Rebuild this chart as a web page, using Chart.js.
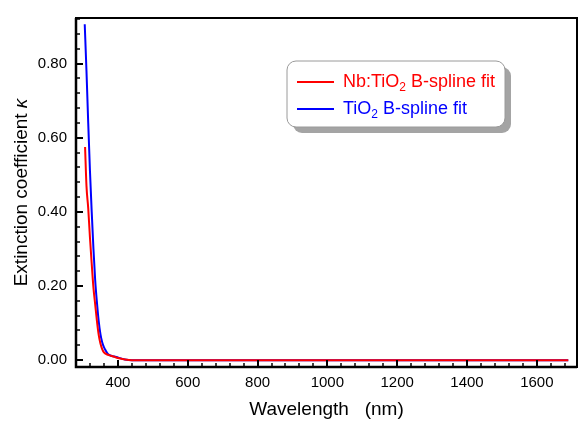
<!DOCTYPE html>
<html>
<head>
<meta charset="utf-8">
<script src="https://cdn.jsdelivr.net/npm/chart.js@4.4.0/dist/chart.umd.min.js"></script>
<style>
  html, body { margin: 0; padding: 0; background: #fff; }
  #wrap { width: 579px; height: 421px; }
</style>
</head>
<body>
<div id="wrap"><canvas id="c"></canvas></div>
<script>
// 消衰係数 κ のスペクトル
const nbWave  = [306, 310, 315, 320, 325, 330, 335, 340, 345, 350, 355, 360, 370, 380, 390, 400, 420, 440, 600, 800, 1000, 1200, 1400, 1600, 1690];
const nbKappa = [0.575, 0.47, 0.41, 0.33, 0.26, 0.195, 0.15, 0.105, 0.068, 0.045, 0.030, 0.021, 0.015, 0.012, 0.009, 0.006, 0.002, 0.000, 0.000, 0.000, 0.000, 0.000, 0.000, 0.000, 0.000];
const tiWave  = [305, 310, 315, 320, 325, 330, 335, 340, 345, 350, 355, 360, 365, 372, 380, 390, 400, 420, 440, 600, 800, 1000, 1200, 1400, 1600, 1690];
const tiKappa = [0.906, 0.78, 0.64, 0.51, 0.40, 0.30, 0.215, 0.155, 0.105, 0.070, 0.048, 0.035, 0.026, 0.016, 0.012, 0.010, 0.007, 0.002, 0.000, 0.000, 0.000, 0.000, 0.000, 0.000, 0.000, 0.000];

const xTicks = [400, 600, 800, 1000, 1200, 1400, 1600];
const yTicks = [0, 0.2, 0.4, 0.6, 0.8];
const xMinorStep = 40;
const yMinorStep = 0.04;

const legendItems = [
  { pre: 'Nb:TiO', sub: '2', post: ' B-spline fit', color: '#ff0000' },
  { pre: 'TiO', sub: '2', post: ' B-spline fit', color: '#0000ff' },
];

const FONT = "'Liberation Sans', Arial, sans-serif";

// 枠と内向きの目盛り
const framePlugin = {
  id: 'frame',
  afterDraw(chart) {
    const { ctx, chartArea: a, scales: { x, y } } = chart;
    ctx.save();
    ctx.strokeStyle = '#000';
    for (let v = Math.ceil(x.min / xMinorStep) * xMinorStep; v <= x.max; v += xMinorStep) {
      const px = Math.round(x.getPixelForValue(v));
      const major = xTicks.includes(v);
      ctx.lineWidth = major ? 2 : 1.5;
      ctx.beginPath();
      ctx.moveTo(px, a.bottom);
      ctx.lineTo(px, a.bottom - (major ? 7 : 4));
      ctx.stroke();
    }
    for (let i = Math.ceil(y.min / yMinorStep); i * yMinorStep <= y.max; i++) {
      const v = i * yMinorStep;
      const py = Math.round(y.getPixelForValue(v));
      const major = i % 5 === 0;
      ctx.lineWidth = major ? 2 : 1.5;
      ctx.beginPath();
      ctx.moveTo(a.left, py);
      ctx.lineTo(a.left + (major ? 7 : 4), py);
      ctx.stroke();
    }
    ctx.lineWidth = 2;
    ctx.strokeRect(a.left, a.top, a.right - a.left, a.bottom - a.top);
    ctx.lineWidth = 2.5;
    ctx.beginPath();
    ctx.moveTo(a.left, a.top);
    ctx.lineTo(a.left, a.bottom);
    ctx.lineTo(a.right, a.bottom);
    ctx.stroke();

    // y軸タイトル（κ はイタリック）
    ctx.font = `19px ${FONT}`;
    const t1 = 'Extinction coefficient ';
    const w1 = ctx.measureText(t1).width;
    ctx.font = `italic 19px ${FONT}`;
    const w2 = ctx.measureText('κ').width;
    ctx.translate(22, (a.top + a.bottom) / 2);
    ctx.rotate(-Math.PI / 2);
    ctx.fillStyle = '#000';
    ctx.textBaseline = 'middle';
    ctx.textAlign = 'left';
    const sx = -(w1 + w2) / 2;
    ctx.font = `19px ${FONT}`;
    ctx.fillText(t1, sx, 0);
    ctx.font = `italic 19px ${FONT}`;
    ctx.fillText('κ', sx + w1, 0);
    ctx.restore();
  }
};

// 凡例（影付きの角丸枠、下付き文字）
const legendPlugin = {
  id: 'boxLegend',
  afterDraw(chart) {
    const { ctx } = chart;
    const bx = 287, by = 61, bw = 218, bh = 66, r = 9;
    ctx.save();
    ctx.fillStyle = '#a4a4a4';
    ctx.beginPath();
    ctx.roundRect(bx + 6, by + 6, bw, bh, r);
    ctx.fill();
    ctx.fillStyle = '#fff';
    ctx.strokeStyle = '#9a9a9a';
    ctx.lineWidth = 1;
    ctx.beginPath();
    ctx.roundRect(bx, by, bw, bh, r);
    ctx.fill();
    ctx.stroke();
    legendItems.forEach((it, i) => {
      const ly = 82 + i * 27;
      ctx.strokeStyle = it.color;
      ctx.lineWidth = 2;
      ctx.beginPath();
      ctx.moveTo(297, ly);
      ctx.lineTo(334, ly);
      ctx.stroke();
      ctx.fillStyle = it.color;
      ctx.textBaseline = 'middle';
      let tx = 343;
      ctx.font = `18px ${FONT}`;
      ctx.fillText(it.pre, tx, ly);
      tx += ctx.measureText(it.pre).width;
      ctx.font = `12px ${FONT}`;
      ctx.fillText(it.sub, tx, ly + 6);
      tx += ctx.measureText(it.sub).width;
      ctx.font = `18px ${FONT}`;
      ctx.fillText(it.post, tx, ly);
    });
    ctx.restore();
  }
};

new Chart(document.getElementById('c'), {
  type: 'line',
  data: {
    datasets: [
      {
        label: 'Nb:TiO2 B-spline fit',
        data: nbWave.map((w, i) => ({ x: w, y: nbKappa[i] })),
        borderColor: '#ff0000', borderWidth: 2, pointRadius: 0,
        cubicInterpolationMode: 'monotone', fill: false,
      },
      {
        label: 'TiO2 B-spline fit',
        data: tiWave.map((w, i) => ({ x: w, y: tiKappa[i] })),
        borderColor: '#0000ff', borderWidth: 2, pointRadius: 0,
        cubicInterpolationMode: 'monotone', fill: false,
      },
    ]
  },
  options: {
    responsive: true, maintainAspectRatio: false, animation: false,
    layout: { padding: { top: 10, right: 2, left: 0, bottom: 0 } },
    plugins: { legend: { display: false }, tooltip: { enabled: false } },
    scales: {
      x: {
        type: 'linear', min: 280, max: 1715,
        grid: { display: false, drawTicks: false },
        border: { display: false },
        afterBuildTicks: s => { s.ticks = xTicks.map(v => ({ value: v })); },
        afterFit: s => { s.height = 54; },
        ticks: { font: { family: FONT, size: 15 }, color: '#000', padding: 7, maxRotation: 0, callback: v => String(v) },
        title: { display: true, text: 'Wavelength   (nm)', font: { family: FONT, size: 19 }, color: '#000', padding: { top: 0, bottom: 0 } },
      },
      y: {
        type: 'linear', min: -0.0185, max: 0.923,
        grid: { display: false, drawTicks: false },
        border: { display: false },
        afterBuildTicks: s => { s.ticks = yTicks.map(v => ({ value: v })); },
        afterFit: s => { s.width = 76; },
        ticks: { font: { family: FONT, size: 15 }, color: '#000', padding: 9, callback: v => v.toFixed(2) },
      }
    }
  },
  plugins: [framePlugin, legendPlugin]
});
</script>
</body>
</html>
